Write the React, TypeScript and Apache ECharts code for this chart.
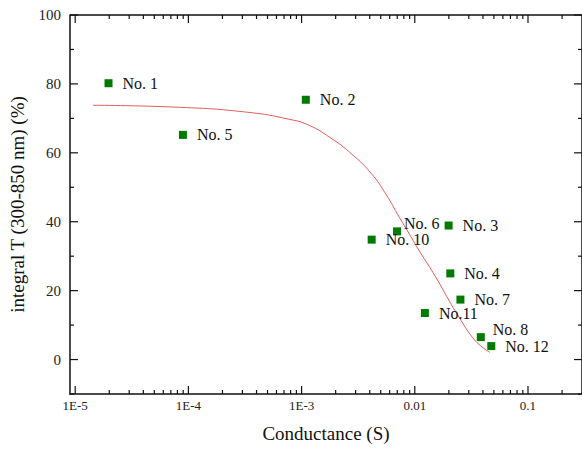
import React, { useEffect, useRef } from "react";
import * as echarts from "echarts";

const sampleNames = ["No. 1", "No. 2", "No. 3", "No. 4", "No. 5", "No. 6", "No. 7", "No. 8", "No. 10", "No.11", "No. 12"];
const conductance = [1.97e-5, 1.09e-3, 0.0199, 0.0206, 8.95e-5, 6.97e-3, 0.0253, 0.0383, 4.16e-3, 0.01228, 0.0474];
const transmittance = [80.2, 75.4, 38.9, 25.0, 65.2, 37.2, 17.4, 6.5, 34.8, 13.5, 3.9];

const fitX = [1.44e-5, 8.49e-5, 3.28e-4, 7.87e-4, 1.18e-3, 1.77e-3, 2.65e-3, 4.1e-3, 5.58e-3, 7.3e-3, 8.93e-3, 0.01094, 0.01534, 0.0201, 0.0246, 0.0322, 0.0394, 0.0461];
const fitY = [73.8, 73.2, 71.8, 69.7, 67.9, 64.5, 60.2, 54.1, 47.9, 41.3, 36.5, 31.6, 23.9, 17.1, 12.3, 6.5, 3.6, 2.1];

const xMajorTicks = [1e-5, 1e-4, 1e-3, 0.01, 0.1];
const xMajorLabels = ["1E-5", "1E-4", "1E-3", "0.01", "0.1"];
const xMinorTicks = [
  2e-5, 3e-5, 4e-5, 5e-5, 6e-5, 7e-5, 8e-5, 9e-5,
  2e-4, 3e-4, 4e-4, 5e-4, 6e-4, 7e-4, 8e-4, 9e-4,
  2e-3, 3e-3, 4e-3, 5e-3, 6e-3, 7e-3, 8e-3, 9e-3,
  0.02, 0.03, 0.04, 0.05, 0.06, 0.07, 0.08, 0.09,
  0.2,
];
const yMajorTicks = [0, 20, 40, 60, 80, 100];
const yMinorTicks = [-10, 10, 30, 50, 70, 90];

const FONT = "Liberation Serif";
const X_MIN = 9e-6;
const X_MAX = 0.3;
const Y_MIN = -10;
const Y_MAX = 100;
const MAJOR_LEN = 8;
const MINOR_LEN = 4;

const tickStyle = () => ({ stroke: "#111", lineWidth: 1.2, fill: null });

export default function App() {
  const ref = useRef<HTMLDivElement>(null);
  useEffect(() => {
    if (!ref.current) return;
    const chart = echarts.init(ref.current, null, { renderer: "svg" });

    const xTickData = [
      ...xMajorTicks.map((v) => [v, 50, MAJOR_LEN]),
      ...xMinorTicks.map((v) => [v, 50, MINOR_LEN]),
    ];
    const yTickData = [
      ...yMajorTicks.map((v) => [1e-3, v, MAJOR_LEN]),
      ...yMinorTicks.map((v) => [1e-3, v, MINOR_LEN]),
    ];

    const offsets: Record<string, number[]> = { "No. 6": [-7, -8], "No. 8": [-2, -8] };
    const scatterData = sampleNames.map((n, i) => {
      const item: any = { name: n, value: [conductance[i], transmittance[i]] };
      if (offsets[n]) item.label = { offset: offsets[n] };
      return item;
    });

    chart.setOption({
      animation: false,
      grid: { left: 69, top: 15, right: -2, bottom: 58 },
      xAxis: {
        type: "log",
        min: X_MIN,
        max: X_MAX,
        position: "bottom",
        axisLine: { show: true, onZero: false, lineStyle: { color: "#111", width: 1.5 } },
        axisTick: { show: false },
        minorTick: { show: false },
        splitLine: { show: false },
        axisLabel: {
          show: true,
          customValues: xMajorTicks,
          formatter: (v: number) => {
            const i = xMajorTicks.findIndex((t) => Math.abs(Math.log10(t) - Math.log10(v)) < 1e-6);
            return i >= 0 ? xMajorLabels[i] : "";
          },
          fontFamily: FONT,
          fontSize: 13,
          color: "#222",
          margin: 5,
        },
        name: "Conductance (S)",
        nameLocation: "middle",
        nameGap: 30,
        nameTextStyle: { fontFamily: FONT, fontSize: 19, color: "#111" },
      },
      yAxis: {
        type: "value",
        min: Y_MIN,
        max: Y_MAX,
        interval: 10,
        position: "left",
        axisLine: { show: true, onZero: false, lineStyle: { color: "#111", width: 1.5 } },
        axisTick: { show: false },
        splitLine: { show: false },
        axisLabel: {
          show: true,
          formatter: (v: number) => (v % 20 === 0 ? String(v) : ""),
          fontFamily: FONT,
          fontSize: 15,
          color: "#222",
          margin: 9,
        },
        name: "integral T (300-850 nm) (%)",
        nameLocation: "middle",
        nameGap: 43,
        nameTextStyle: { fontFamily: FONT, fontSize: 19, color: "#111" },
      },
      series: [
        {
          type: "custom",
          clip: false,
          encode: { x: 0, y: 1 },
          data: [[X_MAX, Y_MAX]],
          renderItem: (_params: any, api: any) => {
            const tl = api.coord([X_MIN, Y_MAX]);
            const tr = api.coord([X_MAX, Y_MAX]);
            const br = api.coord([X_MAX, Y_MIN]);
            return {
              type: "polyline",
              shape: { points: [tl, tr, br] },
              style: { stroke: "#111", lineWidth: 1.5, fill: null },
            };
          },
        },
        {
          type: "custom",
          clip: false,
          encode: { x: 0, y: 1 },
          data: xTickData,
          renderItem: (_params: any, api: any) => {
            const v = api.value(0);
            const len = api.value(2);
            const b = api.coord([v, Y_MIN]);
            const t = api.coord([v, Y_MAX]);
            return {
              type: "group",
              children: [
                { type: "line", shape: { x1: b[0], y1: b[1], x2: b[0], y2: b[1] - len }, style: tickStyle() },
                { type: "line", shape: { x1: t[0], y1: t[1], x2: t[0], y2: t[1] + len }, style: tickStyle() },
              ],
            };
          },
        },
        {
          type: "custom",
          clip: false,
          encode: { x: 0, y: 1 },
          data: yTickData,
          renderItem: (_params: any, api: any) => {
            const v = api.value(1);
            const len = api.value(2);
            const l = api.coord([X_MIN, v]);
            const r = api.coord([X_MAX, v]);
            return {
              type: "group",
              children: [
                { type: "line", shape: { x1: l[0], y1: l[1], x2: l[0] + len, y2: l[1] }, style: tickStyle() },
                { type: "line", shape: { x1: r[0], y1: r[1], x2: r[0] - len, y2: r[1] }, style: tickStyle() },
              ],
            };
          },
        },
        {
          type: "line",
          data: fitX.map((x, i) => [x, fitY[i]]),
          smooth: 0.5,
          showSymbol: false,
          lineStyle: { color: "#e34a4a", width: 0.9 },
          z: 2,
        },
        {
          type: "scatter",
          symbol: "rect",
          symbolSize: 8,
          itemStyle: { color: "#007a00", opacity: 1 },
          data: scatterData,
          label: {
            show: true,
            position: "right",
            distance: 10,
            formatter: "{b}",
            fontFamily: FONT,
            fontSize: 16,
            color: "#111",
          },
          z: 3,
        },
      ],
    });
    return () => chart.dispose();
  }, []);
  return <div ref={ref} style={{ position: "absolute", left: 0, top: 0, width: 582, height: 452 }} />;
}
